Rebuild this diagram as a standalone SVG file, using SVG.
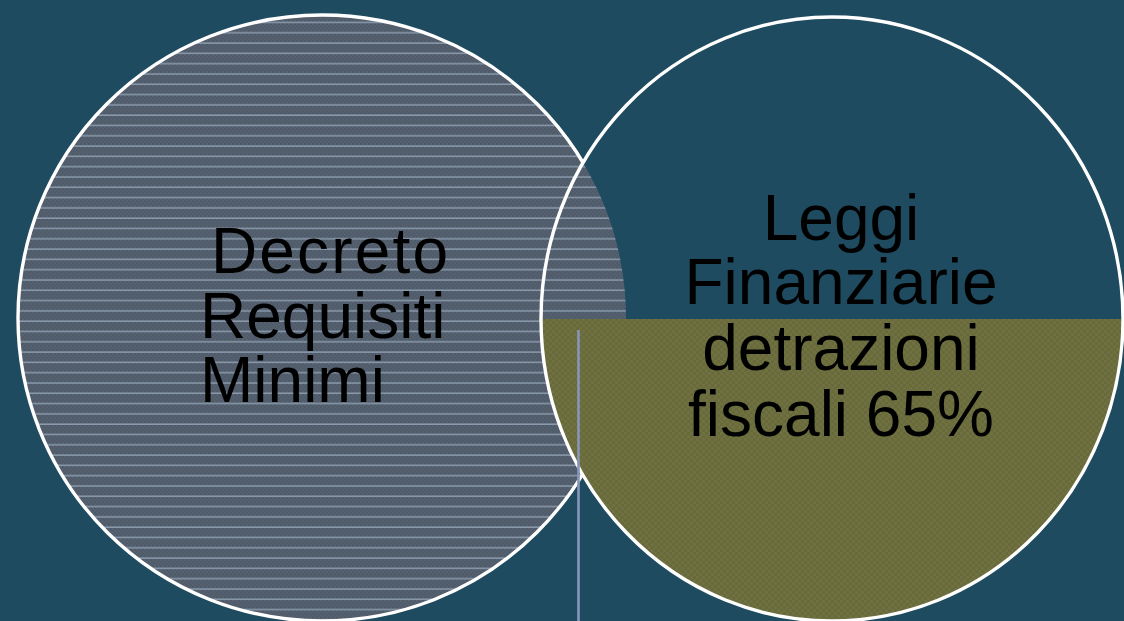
<svg xmlns="http://www.w3.org/2000/svg" width="1124" height="621" viewBox="0 0 1124 621">
  <style>
    .outline { fill: none; stroke: #ffffff; stroke-width: 3.4; }
    .label { font-family: "Liberation Sans", Arial, sans-serif; font-size: 64px; fill: #000000; }
  </style>
  <defs>
    <pattern id="hatch" patternUnits="userSpaceOnUse" x="0" y="0.8" width="4" height="10.3">
      <rect width="4" height="10.3" fill="#4e5a69"/>
      <rect x="0" y="2" width="2" height="2" fill="#56626f"/>
      <rect x="2" y="4" width="2" height="2" fill="#56626f"/>
      <rect x="0" y="6" width="2" height="2" fill="#56626f"/>
      <rect x="2" y="8" width="2" height="2" fill="#56626f"/>
      <rect x="0" y="0.5" width="4" height="1.1" fill="#a2b3c6"/>
    </pattern>
    <pattern id="olive" patternUnits="userSpaceOnUse" width="6" height="6">
      <rect width="6" height="6" fill="#686a3b"/>
      <rect x="0" y="0" width="3" height="3" fill="#6f7240"/>
      <rect x="3" y="3" width="3" height="3" fill="#6f7240"/>
    </pattern>
    <clipPath id="outsideRight">
      <path clip-rule="evenodd" d="M-10,-10 H1134 V631 H-10 Z M541,319 A291,302 0 1,0 1123,319 A291,302 0 1,0 541,319 Z"/>
    </clipPath>
  </defs>

  <rect width="1124" height="621" fill="#1e4b5f"/>

  <g id="node-decreto">
    <ellipse cx="322" cy="318" rx="304" ry="303" fill="url(#hatch)"/>
  </g>

  <g id="node-leggi">
    <path d="M541,319 H1124 L1123,319 A291,302 0 0,1 541,319 Z" fill="url(#olive)"/>
    <ellipse class="outline" cx="832" cy="319" rx="291" ry="302"/>
  </g>

  <g id="node-decreto-outline">
    <ellipse class="outline" cx="322" cy="318" rx="304" ry="303" clip-path="url(#outsideRight)"/>
  </g>

  <g id="connectors">
    <line x1="578.5" y1="330" x2="578.5" y2="621" stroke="#8797b9" stroke-width="2.6"/>
  </g>

  <g id="labels">
    <text class="label" x="211" y="273" textLength="237" lengthAdjust="spacing">Decreto</text>
    <text class="label" x="200" y="338">Requisiti</text>
    <text class="label" x="200" y="402">Minimi</text>
    <text class="label" x="841" y="240" text-anchor="middle">Leggi</text>
    <text class="label" x="841" y="304" text-anchor="middle">Finanziarie</text>
    <text class="label" x="841" y="370" text-anchor="middle">detrazioni</text>
    <text class="label" x="841" y="436" text-anchor="middle">fiscali 65%</text>
  </g>
</svg>
